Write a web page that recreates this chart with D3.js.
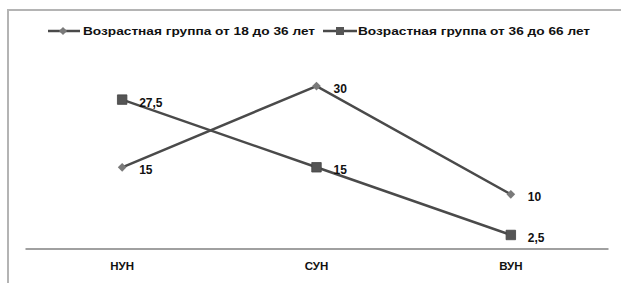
<!DOCTYPE html>
<html><head><meta charset="utf-8">
<script src="https://cdn.jsdelivr.net/npm/d3@7"></script>
<style>body{margin:0;background:#fff}svg{display:block}</style>
</head><body>
<script>
const categories = ["НУН", "СУН", "ВУН"];
const seriesNames = ["Возрастная группа от 18 до 36 лет", "Возрастная группа от 36 до 66 лет"];
const series1 = [15, 30, 10];
const series2 = [27.5, 15, 2.5];
const labels1 = ["15", "30", "10"];
const labels2 = ["27,5", "15", "2,5"];

const W = 621, H = 283;
const svg = d3.select("body").append("svg").attr("width", W).attr("height", H);
const font = "'Liberation Sans', Arial, sans-serif";

// outer frame (cropped on right and bottom)
svg.append("rect").attr("x", 8).attr("y", 10).attr("width", 640).attr("height", 300)
  .attr("fill", "#fff").attr("stroke", "#b4b4b4").attr("stroke-width", 2);

const x = d3.scaleBand().domain(categories).range([25, 608]);
const y = d3.scaleLinear().domain([0, 35]).range([248.5, 59]);

// axis
const xAxis = d3.axisBottom(x).tickSize(0).tickPadding(13);
const gx = svg.append("g").attr("transform", `translate(0,${y(0)})`).call(xAxis);
gx.select(".domain").attr("stroke", "#a0a0a0").attr("stroke-width", 2);
gx.selectAll("text").attr("font-family", font).attr("font-weight", "bold")
  .attr("font-size", 11.5).attr("fill", "#111");

const cx = d => x(d) + x.bandwidth() / 2;
const line = d3.line().x((d, i) => cx(categories[i])).y(d => y(d));

const lineColor = "#4a4a4a";
svg.append("path").datum(series1).attr("d", line).attr("fill", "none")
  .attr("stroke", lineColor).attr("stroke-width", 2.5);
svg.append("path").datum(series2).attr("d", line).attr("fill", "none")
  .attr("stroke", lineColor).attr("stroke-width", 2.5);

const square = d3.symbol().type(d3.symbolSquare).size(90);

svg.append("g").selectAll("path").data(series1).join("path")
  .attr("d", d3.symbol().type(d3.symbolSquare).size(38))
  .attr("transform", (d, i) => `translate(${cx(categories[i])},${y(d)}) rotate(45)`)
  .attr("fill", "#7a7a7a");
svg.append("g").selectAll("path").data(series2).join("path")
  .attr("d", square)
  .attr("transform", (d, i) => `translate(${cx(categories[i])},${y(d)})`)
  .attr("fill", "#555").attr("stroke", "#444").attr("stroke-width", 0.8);

const lab = (vals, texts) => svg.append("g").selectAll("text").data(vals).join("text")
  .attr("x", (d, i) => cx(categories[i]) + 17)
  .attr("y", d => y(d) + 7)
  .attr("font-family", font).attr("font-weight", "bold").attr("font-size", 12)
  .attr("fill", "#111").text((d, i) => texts[i]);
lab(series1, labels1);
lab(series2, labels2);

// legend
const ly = 31;
const leg = [
  {x0: 48, x1: 80, m: 63, tx: 83, type: "d"},
  {x0: 323, x1: 357, m: 340, tx: 358, type: "s"}
];
leg.forEach((l, i) => {
  svg.append("line").attr("x1", l.x0).attr("x2", l.x1).attr("y1", ly).attr("y2", ly)
    .attr("stroke", lineColor).attr("stroke-width", 2.5);
  if (l.type === "d") {
    svg.append("path").attr("d", d3.symbol().type(d3.symbolSquare).size(34))
      .attr("transform", `translate(${l.m},${ly}) rotate(45)`).attr("fill", "#7a7a7a");
  } else {
    svg.append("path").attr("d", d3.symbol().type(d3.symbolSquare).size(64))
      .attr("transform", `translate(${l.m},${ly})`).attr("fill", "#555");
  }
  svg.append("text").attr("x", l.tx).attr("y", ly + 4)
    .attr("font-family", font).attr("font-weight", "bold").attr("font-size", 11)
    .attr("textLength", 232).attr("lengthAdjust", "spacingAndGlyphs")
    .attr("fill", "#111").text(seriesNames[i]);
});
</script>
</body></html>
